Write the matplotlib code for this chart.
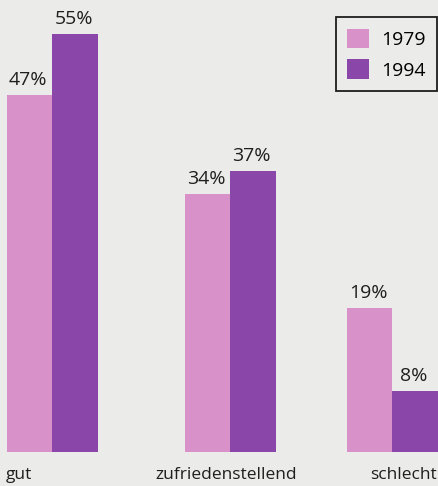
import matplotlib
matplotlib.use('Agg')
import matplotlib.pyplot as plt
import numpy as np

# data
categories = ["gut", "zufriedenstellend", "schlecht"]
years = ["1979", "1994"]
values_1979 = [47, 34, 19]
values_1994 = [55, 37, 8]

# style
bg = "#ebebe9"
col_1979 = "#d891c9"
col_1994 = "#8b46a9"
txt = "#1e1e1e"
plt.rcParams['font.family'] = ['Open Sans', 'DejaVu Sans']

W, H = 438, 486
fig = plt.figure(figsize=(W / 100, H / 100), dpi=100, facecolor=bg)
base_px = 34
px_per_pct = 7.6
ax = fig.add_axes([0, base_px / H, 1, (H - base_px) / H])
ax.set_facecolor(bg)
ax.set_xlim(0, W)
ax.set_ylim(0, (H - base_px) / px_per_pct)
ax.axis('off')

centers = np.array([52, 230, 392])
bw = 45.5
b1 = ax.bar(centers - bw / 2, values_1979, width=bw, color=col_1979, label=years[0])
b2 = ax.bar(centers + bw / 2, values_1994, width=bw, color=col_1994, label=years[1])

for bars, vals in ((b1, values_1979), (b2, values_1994)):
    for r, v in zip(bars, vals):
        ax.annotate(f"{v}%", (r.get_x() + r.get_width() / 2, v),
                    xytext=(-1, 6), textcoords='offset pixels',
                    ha='center', va='bottom', fontsize=14, color=txt)

# category labels below baseline
fig.text(6 / W, 11 / H, categories[0], ha='left', va='center', fontsize=12.5, color=txt)
fig.text(226 / W, 11 / H, categories[1], ha='center', va='center', fontsize=12.5, color=txt)
fig.text(437 / W, 11 / H, categories[2], ha='right', va='center', fontsize=12.5, color=txt)

leg = ax.legend(loc='upper right', bbox_to_anchor=(437 / W, 1 - 17 / (H - base_px)),
                borderaxespad=0, fontsize=14, frameon=True, fancybox=False,
                handlelength=1.13, handleheight=1.13, labelspacing=0.55,
                handletextpad=0.6, borderpad=0.6)
leg.get_frame().set_edgecolor(txt)
leg.get_frame().set_linewidth(1.3)
leg.get_frame().set_facecolor(bg)
leg.get_frame().set_alpha(1)

fig.savefig("out.png", dpi=100, facecolor=bg)
